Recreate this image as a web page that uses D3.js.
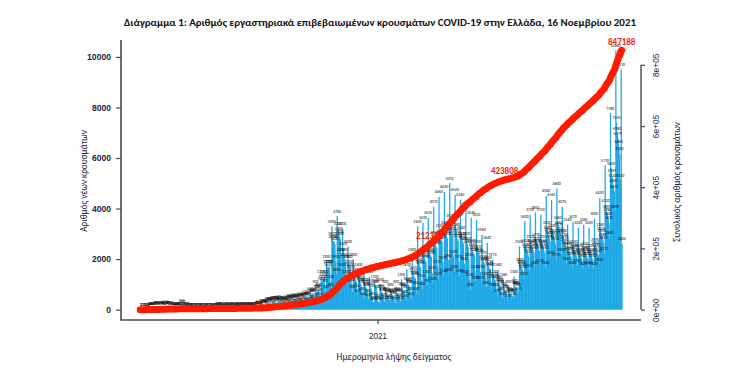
<!DOCTYPE html>
<html lang="el">
<head>
<meta charset="utf-8">
<title>COVID-19 Ελλάδα</title>
<script src="https://cdn.jsdelivr.net/npm/d3@7"></script>
<style>
  body { margin: 0; background: #fff; }
  svg { display: block; font-family: Carlito, Lato, "Open Sans", sans-serif; }
</style>
</head>
<body>
<div id="chart"></div>
<script>
// daily new cases by sampling date, first value is 26 Feb 2020
const firstDay = "2020-02-26";
const cases2020 = [
  1, 2, 1, 2, 1,
  3, 2, 5, 15, 20, 12, 8,
  40, 38, 35, 25, 60, 45, 30,
  70, 85, 60, 75, 80, 55, 40,
  95, 100, 90, 95, 85, 60, 40,
  110, 90, 80, 85, 75, 50, 35,
  70, 65, 60, 55, 45, 30, 20,
  40, 35, 45, 60, 50, 30, 20,
  160, 120, 40, 30, 25, 15, 10,
  30, 25, 20, 15, 18, 10, 8,
  20, 15, 12, 14, 10, 8, 5,
  15, 12, 18, 10, 12, 8, 5,
  12, 10, 8, 14, 10, 6, 4,
  10, 15, 12, 20, 14, 8, 6,
  18, 15, 12, 20, 35, 25, 10,
  30, 25, 40, 30, 20, 12, 8,
  25, 20, 30, 25, 35, 15, 10,
  30, 25, 20, 28, 35, 20, 12,
  25, 30, 22, 40, 35, 20, 15,
  40, 35, 30, 45, 50, 30, 20,
  45, 40, 35, 50, 40, 25, 20,
  50, 45, 55, 60, 45, 30, 25,
  70, 80, 90, 110, 100, 60, 45,
  150, 140, 150, 160, 170, 110, 80,
  240, 220, 240, 230, 250, 180, 120,
  300, 270, 250, 280, 290, 200, 150,
  320, 260, 300, 270, 250, 180, 130,
  300, 240, 260, 300, 320, 220, 160,
  380, 300, 310, 340, 360, 250, 180,
  420, 380, 340, 360, 370, 260, 200,
  450, 400, 370, 390, 420, 280, 210,
  520, 450, 430, 460, 480, 320, 250,
  650, 560, 540, 580, 600, 420, 300,
  900, 700, 720, 750, 800, 600, 450,
  1300, 1050, 1100, 1200, 1300, 950, 700,
  1900, 1700, 1600, 1700, 1700, 1100, 800,
  3300, 2800, 2700, 2700, 2600, 1900, 1400,
  3700, 3200, 3000, 2900, 2800, 2200, 1600,
  3200, 2400, 2200, 2000, 1900, 1300, 1000,
  2500, 1900, 1700, 1600, 1500, 1000, 700,
  2000, 1400, 1250, 1150, 1100, 750, 550,
  1600, 1150, 1050, 1000, 900, 650, 450,
  1400, 1000, 900, 850, 800, 550, 400,
  1300, 950, 850, 750, 450, 300, 250,
  1100, 950, 900, 700
];
const cases2021 = [
  350, 300, 250,
  1000, 750, 700, 650, 600, 420, 300,
  900, 650, 600, 560, 520, 380, 280,
  800, 580, 540, 500, 480, 340, 250,
  900, 650, 600, 580, 560, 400, 300,
  1200, 850, 780, 750, 720, 500, 360,
  1600, 1050, 980, 930, 900, 620, 450,
  2200, 1450, 1350, 1280, 1240, 860, 620,
  3300, 1950, 1800, 1720, 1650, 1150, 830,
  3430, 2200, 2050, 1950, 1900, 1300, 950,
  3630, 2350, 2200, 2150, 2080, 1450, 1050,
  4070, 2850, 2650, 2520, 2440, 1710, 1220,
  4460, 3120, 2900, 2770, 2680, 1870, 1340,
  4660, 3260, 3030, 2890, 2800, 1960, 1400,
  5010, 3510, 3260, 3110, 3010, 2100, 1500,
  4540, 3180, 2950, 2810, 2720, 1910, 1360,
  4340, 3040, 2820, 2690, 2600, 1820, 1300,
  4000, 2800, 2600, 2480, 2000, 1200, 800,
  3630, 2540, 2360, 2250, 2180, 1520, 1090,
  3550, 2490, 2310, 2200, 2130, 1490, 1070,
  2960, 2070, 1920, 1840, 1780, 1240, 890,
  2640, 1850, 1720, 1640, 1580, 1110, 790,
  1970, 1330, 1230, 1170, 1130, 800, 570,
  1580, 1080, 1000, 950, 920, 640, 450,
  1180, 830, 770, 730, 710, 500, 350,
  900, 650, 610, 590, 570, 540, 450,
  1300, 940, 880, 860, 820, 780, 650,
  2500, 1800, 1700, 1650, 1580, 1500, 1250,
  3500, 2520, 2380, 2310, 2210, 2100, 1550,
  3750, 2700, 2550, 2480, 2360, 2250, 1680,
  3850, 2770, 2620, 2540, 2430, 2310, 1730,
  3750, 2700, 2550, 2480, 2360, 2250, 1680,
  4500, 3240, 3060, 2970, 2840, 2700, 2050,
  4340, 3120, 2950, 2860, 2730, 2600, 1970,
  4800, 3460, 3260, 3170, 3020, 2880, 2200,
  4070, 2930, 2770, 2690, 2560, 2440, 1840,
  3360, 2420, 2280, 2220, 2120, 2020, 1680,
  3470, 2500, 2360, 2290, 2190, 2080, 1740,
  3240, 2330, 2200, 2140, 2040, 1940, 1620,
  3360, 2420, 2280, 2220, 2120, 2020, 1680,
  3240, 2330, 2200, 2140, 2040, 1940, 1620,
  3600, 2590, 2450, 2380, 2270, 2160, 1800,
  4420, 3180, 3010, 2920, 2780, 2650, 2210,
  5720, 4120, 3890, 3780, 3600, 3430, 2860,
  7780, 5600, 5290, 5130, 4900, 4670, 3890,
  10260, 7390, 6980, 6770, 6460, 6160, 5130,
  9510, 2604
];

// labelled points of the cumulative curve
const cumLabelDates = ["2021-03-10", "2021-06-16", "2021-11-16"];
const cumLabelValues = [212352, 423808, 847188];

const leftTicks = [0, 2000, 4000, 6000, 8000, 10000];
const rightTicks = [0, 200000, 400000, 600000, 800000];
const rightTickLabels = ["0e+00", "2e+05", "4e+05", "6e+05", "8e+05"];
const xTickDates = ["2021-01-01"];
const xTickLabels = ["2021"];

const W = 737, H = 373;
const plot = {left: 121, right: 641, top: 40, bottom: 320};
const navy = "#1d2340";

const parse = d3.timeParse("%Y-%m-%d");
const t0 = parse(firstDay);
const values = cases2020.concat(cases2021);
const cum = d3.cumsum(values);
const data = values.map((v, i) => ({date: d3.timeDay.offset(t0, i), v: v, cum: cum[i]}));
const tEnd = data[data.length - 1].date;

// R style 4% padding on every axis
const span = tEnd - t0;
const x = d3.scaleTime()
  .domain([new Date(+t0 - 0.04 * span), new Date(+tEnd + 0.04 * span)])
  .range([plot.left, plot.right]);
const vMax = d3.max(values);
const yL = d3.scaleLinear().domain([-0.04 * vMax, 1.04 * vMax]).range([plot.bottom, plot.top]);
const cMax = cumLabelValues[cumLabelValues.length - 1];
const yR = d3.scaleLinear().domain([-0.04 * cMax, 1.04 * cMax]).range([plot.bottom, plot.top]);

const svg = d3.select("#chart").append("svg").attr("width", W).attr("height", H);

// title
svg.append("text")
  .attr("x", 380).attr("y", 25.5)
  .attr("text-anchor", "middle")
  .attr("font-weight", "bold").attr("font-size", 10.9)
  .attr("fill", "#111")
  .text("Διάγραμμα 1: Αριθμός εργαστηριακά επιβεβαιωμένων κρουσμάτων COVID-19 στην Ελλάδα, 16 Νοεμβρίου 2021");

// bars
const bw = x(d3.timeDay.offset(t0, 1)) - x(t0);
svg.append("g").selectAll("rect").data(data).join("rect")
  .attr("x", d => x(d.date) - bw / 2)
  .attr("width", bw + 0.5)
  .attr("y", d => yL(d.v))
  .attr("height", d => yL(0) - yL(d.v))
  .attr("fill", "#1da8e6");

// tiny value labels above every bar
svg.append("g").selectAll("text").data(data).join("text")
  .attr("x", d => x(d.date))
  .attr("y", d => yL(d.v) - 3.5)
  .attr("text-anchor", "middle")
  .attr("font-size", 4)
  .attr("fill", "#111")
  .text(d => d.v);

// red labels on the cumulative curve
svg.append("g").selectAll("text").data(cumLabelDates).join("text")
  .attr("x", d => x(parse(d)))
  .attr("y", (d, i) => yR(cumLabelValues[i]) - 5.5)
  .attr("text-anchor", "middle")
  .attr("font-weight", "bold").attr("font-size", 9)
  .attr("fill", "#f51c0c")
  .text((d, i) => cumLabelValues[i]);

// cumulative line
svg.append("path").datum(data)
  .attr("d", d3.line().x(d => x(d.date)).y(d => yR(d.cum)))
  .attr("fill", "none")
  .attr("stroke", "#ff1a00")
  .attr("stroke-width", 7)
  .attr("stroke-linecap", "round")
  .attr("stroke-linejoin", "round");

// frame: left and bottom
svg.append("path")
  .attr("d", `M${plot.left},${plot.top}V${plot.bottom}H${plot.right}`)
  .attr("fill", "none").attr("stroke", "#4a4a4a").attr("stroke-width", 1.6);

// left axis
const gL = svg.append("g").attr("transform", `translate(${plot.left},0)`)
  .call(d3.axisLeft(yL).tickValues(leftTicks).tickSize(5).tickPadding(5).tickFormat(d3.format("d")));
gL.select(".domain").remove();
gL.selectAll(".tick line").attr("stroke", "#4a4a4a").attr("stroke-width", 1.2);
gL.selectAll(".tick text").attr("font-family", null).attr("font-size", 8.6)
  .attr("font-weight", "bold").attr("fill", navy);

// right axis
const gR = svg.append("g").attr("transform", `translate(${plot.right},0)`)
  .call(d3.axisRight(yR).tickValues(rightTicks).tickSize(4).tickFormat((d, i) => rightTickLabels[i]));
gR.select(".domain").attr("d", `M0,${yR(0)}V${yR(800000)}`).attr("stroke", "#4a4a4a").attr("stroke-width", 1.4);
gR.selectAll(".tick line").attr("stroke", "#4a4a4a").attr("stroke-width", 1.2);
gR.selectAll(".tick text")
  .attr("font-family", null).attr("font-size", 8.4).attr("fill", navy)
  .attr("x", null).attr("dy", null)
  .attr("text-anchor", "middle")
  .attr("transform", "translate(18,0) rotate(-90)");

// x axis tick
const gX = svg.append("g").attr("transform", `translate(0,${plot.bottom})`)
  .call(d3.axisBottom(x).tickValues(xTickDates.map(parse)).tickSize(4).tickPadding(9)
    .tickFormat((d, i) => xTickLabels[i]));
gX.select(".domain").remove();
gX.selectAll(".tick line").attr("stroke", "#4a4a4a").attr("stroke-width", 1.2);
gX.selectAll(".tick text").attr("font-family", null).attr("font-size", 8.2).attr("fill", navy);

// axis titles
svg.append("text")
  .attr("transform", "translate(87,181) rotate(-90)")
  .attr("text-anchor", "middle").attr("font-size", 9.2).attr("fill", navy)
  .text("Αριθμός νέων κρουσμάτων");
svg.append("text")
  .attr("transform", "translate(680,182) rotate(-90)")
  .attr("text-anchor", "middle").attr("font-size", 9.2).attr("fill", navy)
  .text("Συνολικός αριθμός κρουσμάτων");
svg.append("text")
  .attr("x", 394).attr("y", 360)
  .attr("text-anchor", "middle").attr("font-size", 9.4).attr("fill", navy)
  .text("Ημερομηνία λήψης δείγματος");
</script>
</body>
</html>
